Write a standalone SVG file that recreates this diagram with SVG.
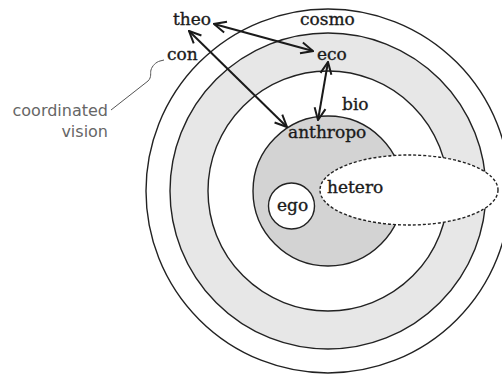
<svg xmlns="http://www.w3.org/2000/svg" width="502" height="374" viewBox="0 0 502 374">
<style>
.ring{stroke:#222;stroke-width:1.4}
.lbl{font-family:"DejaVu Serif","Liberation Serif",serif;font-size:17px;fill:#1a1a1a;stroke:#1a1a1a;stroke-width:0.35}
.note{font-family:"DejaVu Sans","Liberation Sans",sans-serif;font-size:16px;fill:#666}
.arr{stroke:#1a1a1a;stroke-width:2;fill:none;marker-start:url(#ah);marker-end:url(#ah)}
</style>
<defs>
<marker id="ah" viewBox="0 0 14 14" refX="13" refY="7" markerWidth="14" markerHeight="14" markerUnits="userSpaceOnUse" orient="auto-start-reverse">
<path d="M1,1.5 L13,7 L1,12.5" fill="none" stroke="#1a1a1a" stroke-width="2"/>
</marker>
</defs>
<rect width="502" height="374" fill="#fff"/>
<g id="cosmo">
<circle class="ring" cx="328" cy="191" r="182" fill="#fff"/>
<text class="lbl" x="300" y="25">cosmo</text>
</g>
<g id="eco">
<circle class="ring" cx="328" cy="191" r="158" fill="#e7e7e7"/>
<text class="lbl" x="317" y="60">eco</text>
</g>
<g id="bio">
<circle class="ring" cx="328" cy="191" r="120" fill="#fff"/>
<text class="lbl" x="342" y="110">bio</text>
</g>
<g id="anthropo">
<circle class="ring" cx="328" cy="191" r="75" fill="#d3d3d3"/>
<text class="lbl" x="288" y="138">anthropo</text>
</g>
<g id="ego">
<circle class="ring" cx="291.5" cy="206" r="23" fill="#fff"/>
<text class="lbl" x="277" y="211">ego</text>
</g>
<g id="hetero">
<ellipse cx="409" cy="190" rx="89" ry="35" fill="#fff" stroke="#222" stroke-width="1.4" stroke-dasharray="3,2"/>
<text class="lbl" x="327" y="193">hetero</text>
</g>
<g id="theo">
<text class="lbl" x="173" y="25">theo</text>
</g>
<g id="con">
<text class="lbl" x="167" y="60">con</text>
</g>
<g id="coordinated-vision">
<text class="note" x="108" y="116" text-anchor="end">coordinated</text>
<text class="note" x="108" y="137" text-anchor="end">vision</text>
<path d="M111,110 L148,81 C152,77 150,73 151,70 C152,66 156,62 160,61 L164,60" fill="none" stroke="#555" stroke-width="1"/>
</g>
<g id="connectors">
<line class="arr" x1="214" y1="24" x2="313" y2="51"/>
<line class="arr" x1="189" y1="31" x2="287" y2="127"/>
<line class="arr" x1="328" y1="62" x2="318" y2="120"/>
</g>
</svg>
